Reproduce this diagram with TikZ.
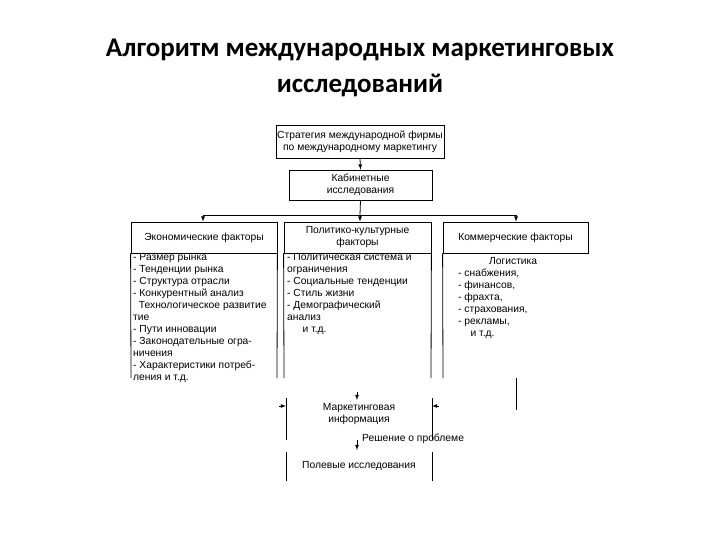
\documentclass[tikz,border=0pt]{standalone}
\usepackage{fontspec}
\setmainfont{Liberation Sans}
\newfontfamily\titlefont{Carlito}
\begin{document}
\begin{tikzpicture}[x=1pt,y=-1pt,
  ln/.style={draw=black,line width=0.8pt},
  ar/.style={ln,-latex},
  txt/.style={font=\fontsize{10.3}{12}\selectfont,inner sep=0pt,align=left,anchor=north west},
  ctxt/.style={font=\fontsize{10.3}{12}\selectfont,inner sep=0pt,align=center}]
\useasboundingbox (0,0) rectangle (720,540);
\node[font=\titlefont\bfseries\fontsize{27}{36}\selectfont,align=center] (title) at (360,68) {Алгоритм международных маркетинговых\\исследований};
\node[ln,minimum width=168,minimum height=33,ctxt] (top) at (360,141.5) {Стратегия международной фирмы\\по международному маркетингу};
\node[ln,minimum width=143,minimum height=30,ctxt] (cab) at (360.5,185) {Кабинетные\\исследования};
\draw[ar] (top.south) -- (cab.north);
\coordinate (hl) at (203,215); \coordinate (hr) at (516,215);
\coordinate (hm) at (360,215);
\draw[ln] (cab.south) -- (hm); \draw[ln] (hl) -- (hr);
\node[ln,minimum width=146,minimum height=31,ctxt] (eh) at (204,237.5) {Экономические факторы};
\node[ln,minimum width=147,minimum height=31,ctxt] (ph) at (357.5,237.5) {Политико-культурные\\факторы};
\node[ln,minimum width=145,minimum height=31,ctxt] (kh) at (515.5,237.5) {Коммерческие факторы};
\draw[ar] (hl) -- (hl|-eh.north);
\draw[ar] (hm) -- (hm|-ph.north);
\draw[ar] (hr) -- (hr|-kh.north);
\draw[ln] (eh.south west) -- (131,378); \draw[ln] (eh.south east) -- (277,378);
\draw[ln] (ph.south west) -- (284,378); \draw[ln] (ph.south east) -- (431,378);
\draw[ln] (kh.south west) -- (443,378); \coordinate (rl) at (516,378); \coordinate (rl2) at (516,410); \draw[ln] (rl) -- (rl2);
\node[txt] (et) at (133,253) {- Размер рынка\\- Тенденции рынка\\- Структура отрасли\\- Конкурентный анализ\\\ \ Технологическое развитие\\тие\\- Пути инновации\\- Законодательные огра-\\ничения\\- Характеристики потреб-\\ления и т.д.};
\node[txt] (pt) at (287,253) {- Политическая система и\\ограничения\\- Социальные тенденции\\- Стиль жизни\\- Демографический\\анализ\\\hspace*{1.5em}и т.д.};
\node[txt] (kt) at (458,257) {\hspace*{3em}Логистика\\- снабжения,\\- финансов,\\- фрахта,\\- страхования,\\- рекламы,\\\hspace*{1.2em}и т.д.};
\node[ctxt,minimum width=146,minimum height=42] (mi) at (359,414) {Маркетинговая\\информация};
\draw[ln] (286,398) -- (286,440); \draw[ln] (432,398) -- (432,440);
\coordinate (a1) at (279,406); \coordinate (a2) at (439,406);
\draw[ar] (a1) -- (286,406); \draw[ar] (a2) -- (432,406);
\coordinate (a3) at (357,392);
\draw[ar] (a3) -- (357,400);
\node[ctxt,anchor=west] (rs) at (362,439) {Решение о проблеме};
\coordinate (a4) at (357,440); \coordinate (a5) at (357,450);
\draw[ar] (a4) -- (a5);
\node[ctxt,minimum width=146,minimum height=30] (fi) at (359,466) {Полевые исследования};
\draw[ln] (286,452) -- (286,481); \draw[ln] (432,452) -- (432,481);
\end{tikzpicture}
\end{document}
